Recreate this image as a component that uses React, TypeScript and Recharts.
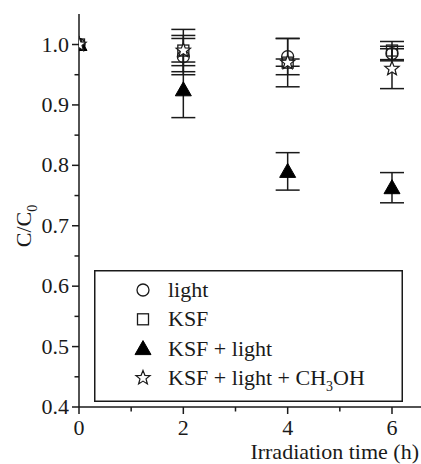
import React from 'react';
import { ScatterChart, Scatter, XAxis, YAxis, ErrorBar, Legend, Customized } from 'recharts';

const times = [0, 2, 4, 6];
const lightVals = [1.0, 0.98, 0.98, 0.985];
const lightErr = [null, 0.03, 0.03, 0.012];
const ksfVals = [1.0, 0.99, 0.97, 0.99];
const ksfErr = [null, 0.025, 0.006, 0.015];
const ksfLightVals = [1.0, 0.925, 0.79, 0.763];
const ksfLightErr = [null, 0.046, 0.031, 0.025];
const methVals = [1.0, 0.99, 0.97, 0.96];
const methErr = [null, 0.035, 0.04, 0.033];

const xTicks = [0, 1, 2, 3, 4, 5, 6];
const xMajor = [0, 2, 4, 6];
const yTicks = [0.4, 0.45, 0.5, 0.55, 0.6, 0.65, 0.7, 0.75, 0.8, 0.85, 0.9, 0.95, 1.0];
const yMajorLabels = ['0.4', '0.5', '0.6', '0.7', '0.8', '0.9', '1.0'];

const legendNames = ['light', 'KSF', 'KSF + light', 'KSF + light + CH3OH'];

const build = (vals: number[], errs: (number | null)[]) =>
  times.map((t, i) => ({ t, v: vals[i], e: errs[i] }));

const lightData = build(lightVals, lightErr);
const ksfData = build(ksfVals, ksfErr);
const ksfLightData = build(ksfLightVals, ksfLightErr);
const methData = build(methVals, methErr);

const FONT = 'Liberation Serif';
const FS = 22;
const INK = '#1a1a1a';

const starPath = (cx: number, cy: number, R: number, r: number) => {
  let d = '';
  for (let i = 0; i < 10; i++) {
    const ang = -Math.PI / 2 + (i * Math.PI) / 5;
    const rad = i % 2 === 0 ? R : r;
    const x = cx + rad * Math.cos(ang);
    const y = cy + rad * Math.sin(ang);
    d += (i === 0 ? 'M' : 'L') + x.toFixed(2) + ',' + y.toFixed(2);
  }
  return d + 'Z';
};

const CircleShape = (p: any) => (
  <circle cx={p.cx} cy={p.cy} r={6} fill="none" stroke={INK} strokeWidth={1.3} />
);
const SquareShape = (p: any) => (
  <rect x={p.cx - 5.5} y={p.cy - 5.5} width={11} height={11} fill="none" stroke={INK} strokeWidth={1.3} />
);
const TriShape = (p: any) => (
  <path d={`M${p.cx},${p.cy - 8}L${p.cx + 8},${p.cy + 6}L${p.cx - 8},${p.cy + 6}Z`} fill="#000" stroke="#000" />
);
const StarShape = (p: any) => (
  <path d={starPath(p.cx, p.cy, 7.5, 3.2)} fill="#fff" stroke={INK} strokeWidth={1.2} />
);

const XTick = (props: any) => {
  const { x, y, payload } = props;
  const v = payload.value;
  const major = xMajor.includes(v);
  return (
    <g>
      <line x1={x} x2={x} y1={y} y2={y + (major ? 7 : 4.5)} stroke={INK} strokeWidth={1.5} />
      {major && (
        <text x={x} y={y + 28} textAnchor="middle" fontFamily={FONT} fontSize={FS} fill={INK}>
          {String(v)}
        </text>
      )}
    </g>
  );
};

const YTick = (props: any) => {
  const { x, y, payload } = props;
  const v = payload.value;
  const idx = Math.round((v - 0.4) * 20);
  const major = idx % 2 === 0;
  return (
    <g>
      <line x1={x - (major ? 7 : 4.5)} x2={x} y1={y} y2={y} stroke={INK} strokeWidth={1.5} />
      {major && (
        <text x={x - 10} y={y + 7} textAnchor="end" fontFamily={FONT} fontSize={FS} fill={INK}>
          {yMajorLabels[idx / 2]}
        </text>
      )}
    </g>
  );
};

const legendShapes = [CircleShape, SquareShape, TriShape, StarShape];

const LegendBox = () => (
  <svg width={309} height={132} style={{ display: 'block' }}>
    <rect x={0.75} y={0.75} width={307.5} height={130.5} fill="#fff" stroke={INK} strokeWidth={1.5} />
    {legendNames.map((name, i) => {
      const cy = 20 + i * 29.3;
      const Shape = legendShapes[i];
      return (
        <g key={name}>
          <Shape cx={49} cy={cy} />
          <text x={74} y={cy + 7} fontFamily={FONT} fontSize={FS} fill={INK}>
            {name === 'KSF + light + CH3OH' ? (
              <>
                KSF + light + CH
                <tspan dy={6} fontSize={14}>3</tspan>
                <tspan dy={-6}>OH</tspan>
              </>
            ) : (
              name
            )}
          </text>
        </g>
      );
    })}
  </svg>
);

const Titles = () => (
  <g>
    <text x={419} y={459} textAnchor="end" fontFamily={FONT} fontSize={FS} fill={INK}>
      Irradiation time (h)
    </text>
    <text
      transform="translate(31, 226) rotate(-90)"
      textAnchor="middle"
      fontFamily={FONT}
      fontSize={FS}
      fill={INK}
    >
      C/C
      <tspan dy={6} fontSize={14}>0</tspan>
    </text>
  </g>
);

export default function App() {
  return (
    <div style={{ position: 'absolute', left: 0, top: 0, width: 421, height: 464, background: '#fff' }}>
      <ScatterChart width={421} height={464} margin={{ top: 14, right: 0, bottom: 0, left: 0 }}>
        <XAxis
          type="number"
          dataKey="t"
          domain={[0, 6.556]}
          ticks={xTicks}
          interval={0}
          tick={<XTick />}
          tickLine={false}
          tickSize={0}
          tickMargin={0}
          height={57}
          axisLine={{ stroke: INK, strokeWidth: 1.5 }}
          allowDataOverflow
        />
        <YAxis
          type="number"
          dataKey="v"
          domain={[0.4, 1.0505]}
          ticks={yTicks}
          interval={0}
          tick={<YTick />}
          tickLine={false}
          tickSize={0}
          tickMargin={0}
          width={79}
          axisLine={{ stroke: INK, strokeWidth: 1.5 }}
          allowDataOverflow
        />
        <Scatter name="light" data={lightData} shape={CircleShape} isAnimationActive={false}>
          <ErrorBar dataKey="e" direction="y" width={12} stroke={INK} strokeWidth={1.5} isAnimationActive={false} />
        </Scatter>
        <Scatter name="KSF" data={ksfData} shape={SquareShape} isAnimationActive={false}>
          <ErrorBar dataKey="e" direction="y" width={12} stroke={INK} strokeWidth={1.5} isAnimationActive={false} />
        </Scatter>
        <Scatter name="KSF + light" data={ksfLightData} shape={TriShape} isAnimationActive={false}>
          <ErrorBar dataKey="e" direction="y" width={12} stroke={INK} strokeWidth={1.5} isAnimationActive={false} />
        </Scatter>
        <Scatter name="KSF + light + CH3OH" data={methData} shape={StarShape} isAnimationActive={false}>
          <ErrorBar dataKey="e" direction="y" width={12} stroke={INK} strokeWidth={1.5} isAnimationActive={false} />
        </Scatter>
        <Legend
          layout="vertical"
          align="center"
          verticalAlign="middle"
          content={() => <LegendBox />}
          wrapperStyle={{ position: 'absolute', left: 94, top: 270, width: 309, height: 132, margin: 0, padding: 0 }}
        />
        <Customized component={Titles} />
      </ScatterChart>
    </div>
  );
}
